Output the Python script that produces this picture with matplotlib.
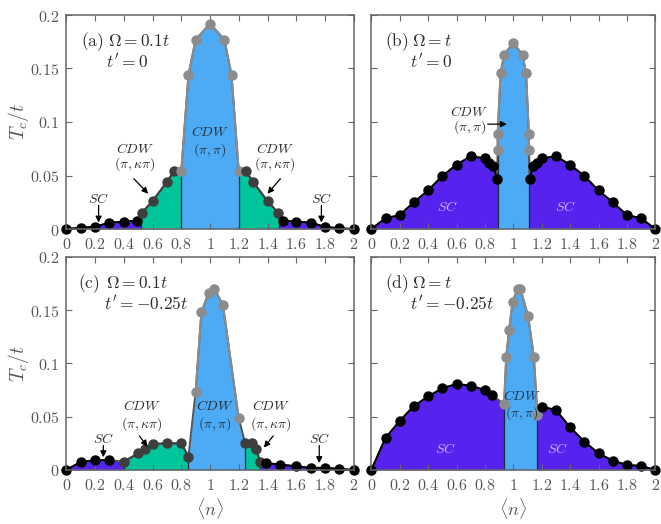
import numpy as np
import matplotlib
matplotlib.use("Agg")
import matplotlib.pyplot as plt
from matplotlib.ticker import FuncFormatter, MultipleLocator

# ----------------------------
# Datos: Tc/t vs <n>, fase de cada punto (S = SC, K = CDW(pi,kpi), C = CDW(pi,pi))
# ----------------------------
a_n = [0, 0.1, 0.2, 0.3, 0.4, 0.49, 0.525, 0.6, 0.7, 0.75, 0.8, 0.85, 0.9, 1.0,
       1.1, 1.15, 1.2, 1.25, 1.3, 1.4, 1.475, 1.51, 1.6, 1.7, 1.8, 1.9, 2.0]
a_tc = [0, 0.0012, 0.002, 0.006, 0.0068, 0.0078, 0.015, 0.026, 0.044, 0.054,
        0.054, 0.144, 0.177, 0.192, 0.177, 0.144, 0.054, 0.054, 0.044, 0.026,
        0.015, 0.0078, 0.0068, 0.006, 0.002, 0.0006, 0]
a_phase = "SSSSSS" "KKKK" "CCCCCCC" "KKKK" "SSSSSS"
a_bounds = [0, 0.52, 0.8, 1.2, 1.48, 2]

b_n = [0, 0.1, 0.2, 0.3, 0.4, 0.5, 0.6, 0.7, 0.8, 0.83, 0.86, 0.885,
       0.89, 0.89, 0.91, 0.935, 1.0, 1.065, 1.09, 1.11, 1.11,
       1.115, 1.14, 1.17, 1.2, 1.3, 1.4, 1.5, 1.6, 1.7, 1.8, 1.9, 2.0]
b_tc = [0, 0.010, 0.013, 0.025, 0.036, 0.0495, 0.060, 0.068, 0.066, 0.062, 0.059, 0.047,
        0.074, 0.089, 0.1455, 0.163, 0.174, 0.163, 0.1455, 0.089, 0.074,
        0.047, 0.059, 0.062, 0.066, 0.068, 0.060, 0.0495, 0.036, 0.025, 0.013, 0.010, 0]
b_phase = "S" * 12 + "C" * 9 + "S" * 12
b_bounds = [0, 0.89, 1.11, 2]

c_n = [0, 0.1, 0.2, 0.3, 0.4, 0.5, 0.55, 0.6, 0.7, 0.8, 0.85,
       0.9, 0.94, 0.99, 1.03, 1.09, 1.2, 1.245, 1.29, 1.32, 1.35,
       1.39, 1.49, 1.6, 1.7, 1.8, 1.9, 2.0]
c_tc = [0, 0.0075, 0.009, 0.0094, 0.0078, 0.0156, 0.020, 0.0244, 0.025, 0.025, 0.0125,
        0.0735, 0.148, 0.166, 0.170, 0.155, 0.0485, 0.025, 0.025, 0.0195, 0.0075,
        0.0065, 0.005, 0.0035, 0.002, 0.002, 0.001, 0]
c_phase = "SSSS" "KKKKKKK" "CCCCCC" "KKKK" "SSSSSSS"
c_bounds = [0, 0.4, 0.85, 1.245, 1.35, 2]

d_n = [0, 0.1, 0.2, 0.3, 0.4, 0.5, 0.6, 0.7, 0.8, 0.85,
       0.935, 0.95, 0.97, 0.995, 1.03, 1.05, 1.105, 1.145, 1.17,
       1.2, 1.3, 1.4, 1.5, 1.6, 1.7, 1.8, 1.9, 2.0]
d_tc = [0, 0.030, 0.046, 0.060, 0.069, 0.0766, 0.0807, 0.079, 0.075, 0.070,
        0.062, 0.106, 0.131, 0.158, 0.170, 0.170, 0.144, 0.106, 0.0516,
        0.0594, 0.0563, 0.040, 0.0266, 0.0156, 0.0088, 0.0047, 0.0038, 0]
d_phase = "S" * 10 + "C" * 9 + "S" * 9
d_bounds = [0, 0.935, 1.17, 2]

panel_tags = ["(a)", "(b)", "(c)", "(d)"]
omega_labels = [r"$\Omega = 0.1t$", r"$\Omega = t$", r"$\Omega = 0.1t$", r"$\Omega = t$"]
tprime_labels = [r"$t' = 0$", r"$t' = 0$", r"$t' = -0.25t$", r"$t' = -0.25t$"]

# ----------------------------
# Estilo
# ----------------------------
plt.rcParams["mathtext.fontset"] = "cm"
plt.rcParams["font.family"] = ["DejaVu Serif"]

fill_col = {"S": "#5522ee", "K": "#00c49a", "C": "#4daaf5"}
dot_col = {"S": "#000000", "K": "#3e3e3e", "C": "#8c8c8c"}
rank = {"S": 0, "K": 1, "C": 2}
txt = "#2e2e2e"
axcol = "#666666"


def draw_panel(ax, n, tc, phase, bounds):
    n = np.array(n)
    tc = np.array(tc)
    ph = np.array(list(phase))
    # runs de fases consecutivas
    runs = []
    start = 0
    for i in range(1, len(ph) + 1):
        if i == len(ph) or ph[i] != ph[start]:
            runs.append((ph[start], start, i))
            start = i
    # regiones rellenas
    polys = []
    for k, (p, i0, i1) in enumerate(runs):
        lo, hi = bounds[k], bounds[k + 1]
        sel = [j for j in range(len(n))
               if lo <= n[j] <= hi and rank[ph[j]] <= rank[p]]
        xs = list(n[sel])
        ys = list(tc[sel])
        if xs[0] > lo:
            xs.insert(0, lo)
            ys.insert(0, np.interp(lo, n, tc))
        if xs[-1] < hi:
            xs.append(hi)
            ys.append(np.interp(hi, n, tc))
        polys.append((p, xs, ys))
    for p, xs, ys in sorted(polys, key=lambda t: rank[t[0]]):
        ax.fill_between(xs, 0, ys, color=fill_col[p], lw=0, zorder=1)
    # fronteras verticales
    for k in range(1, len(polys)):
        h = min(polys[k - 1][2][-1], polys[k][2][0])
        ax.plot([bounds[k], bounds[k]], [0, h], color="#1c2a33", lw=0.9, zorder=2)
    # curva y puntos
    ax.plot(n, tc, color="#555555", lw=1.4, zorder=3, clip_on=False)
    for p, i0, i1 in runs:
        ax.plot(n[i0:i1], tc[i0:i1], color=dot_col[p], lw=1.4, zorder=4,
                marker="o", ms=6.5, mec=dot_col[p], mfc=dot_col[p], clip_on=False)


def style_axes(ax, left):
    ax.set_xlim(0, 2)
    ax.set_ylim(0, 0.2)
    ax.xaxis.set_major_locator(MultipleLocator(0.2))
    ax.yaxis.set_major_locator(MultipleLocator(0.05))
    fmt = FuncFormatter(lambda v, p: f"${v:g}$")
    ax.xaxis.set_major_formatter(fmt)
    ax.yaxis.set_major_formatter(fmt)
    ax.tick_params(direction="in", top=True, right=True, length=4, width=0.8,
                   color=axcol, labelsize=11.5, labelcolor="#555555", pad=5)
    if not left:
        ax.tick_params(labelleft=False)
    for s in ax.spines.values():
        s.set_color(axcol)
        s.set_linewidth(1.1)
        s.set_zorder(5)


fig = plt.figure(figsize=(6.61, 5.24), dpi=100)
W, H = 661, 524
ax_a = fig.add_axes([66.25 / W, 1 - 229 / H, 287.5 / W, 214 / H])
ax_b = fig.add_axes([371.3 / W, 1 - 229 / H, 284 / W, 214 / H])
ax_c = fig.add_axes([66.25 / W, 1 - 470 / H, 287.5 / W, 213.2 / H])
ax_d = fig.add_axes([371.3 / W, 1 - 470 / H, 284 / W, 213.2 / H])
axes = [ax_a, ax_b, ax_c, ax_d]

draw_panel(ax_a, a_n, a_tc, a_phase, a_bounds)
draw_panel(ax_b, b_n, b_tc, b_phase, b_bounds)
draw_panel(ax_c, c_n, c_tc, c_phase, c_bounds)
draw_panel(ax_d, d_n, d_tc, d_phase, d_bounds)

for i, ax in enumerate(axes):
    style_axes(ax, i % 2 == 0)
    tag_x = [0.1, 0.095, 0.085, 0.095][i]
    ax.text(tag_x, 0.175, r"$\mathrm{" + panel_tags[i] + r"}$", fontsize=12.5,
            color=txt, va="center", ha="left")
    ax.text(tag_x + 0.19, 0.175, omega_labels[i], fontsize=12.5, color=txt,
            va="center", ha="left")
    ax.text(tag_x + 0.175, 0.156, tprime_labels[i], fontsize=12.5, color=txt,
            va="center", ha="left")
    if i % 2 == 0:
        ax.set_ylabel(r"$T_c/t$", fontsize=14, color="#555555", va="center")
        ax.yaxis.set_label_coords(-0.165, 0.5)
    if i >= 2:
        ax.set_xlabel(r"$\langle n \rangle$", fontsize=13, color="#555555", va="center")
        ax.xaxis.set_label_coords(0.5, -0.18)

arrow = dict(arrowstyle="-|>", color="k", lw=0.9, mutation_scale=9, shrinkA=0, shrinkB=0)
fs = 10


def two_lines(ax, x, y1, y2, l1, l2, col=txt):
    ax.text(x, y1, l1, fontsize=fs, color=col, ha="center", va="center", zorder=6)
    ax.text(x, y2, l2, fontsize=fs, color=col, ha="center", va="center", zorder=6)


# (a)
ax_a.text(0.225, 0.0285, r"$SC$", fontsize=fs, color=txt, ha="center", va="center")
ax_a.annotate("", xy=(0.225, 0.006), xytext=(0.225, 0.022), arrowprops=arrow, zorder=6)
ax_a.text(1.775, 0.0285, r"$SC$", fontsize=fs, color=txt, ha="center", va="center")
ax_a.annotate("", xy=(1.775, 0.006), xytext=(1.775, 0.022), arrowprops=arrow, zorder=6)
two_lines(ax_a, 0.478, 0.0745, 0.0605, r"$CDW$", r"$(\pi,\kappa\pi)$")
ax_a.annotate("", xy=(0.57, 0.033), xytext=(0.47, 0.047), arrowprops=arrow, zorder=6)
two_lines(ax_a, 1.45, 0.0745, 0.0605, r"$CDW$", r"$(\pi,\kappa\pi)$")
ax_a.annotate("", xy=(1.40, 0.033), xytext=(1.49, 0.047), arrowprops=arrow, zorder=6)
two_lines(ax_a, 1.0, 0.0905, 0.0735, r"$CDW$", r"$(\pi,\pi)$", "#22303e")

# (b)
two_lines(ax_b, 0.69, 0.1095, 0.0955, r"$CDW$", r"$(\pi,\pi)$")
ax_b.annotate("", xy=(0.955, 0.098), xytext=(0.82, 0.098), arrowprops=arrow, zorder=6)
ax_b.text(0.54, 0.021, r"$SC$", fontsize=fs, color="#c8b6ff", ha="center", va="center")
ax_b.text(1.365, 0.021, r"$SC$", fontsize=fs, color="#c8b6ff", ha="center", va="center")

# (c)
ax_c.text(0.258, 0.029, r"$SC$", fontsize=fs, color=txt, ha="center", va="center")
ax_c.annotate("", xy=(0.258, 0.012), xytext=(0.258, 0.023), arrowprops=arrow, zorder=6)
ax_c.text(1.76, 0.029, r"$SC$", fontsize=fs, color=txt, ha="center", va="center")
ax_c.annotate("", xy=(1.76, 0.0065), xytext=(1.76, 0.023), arrowprops=arrow, zorder=6)
two_lines(ax_c, 0.525, 0.0605, 0.0435, r"$CDW$", r"$(\pi,\kappa\pi)$")
ax_c.annotate("", xy=(0.565, 0.022), xytext=(0.508, 0.032), arrowprops=arrow, zorder=6)
two_lines(ax_c, 1.035, 0.0605, 0.0435, r"$CDW$", r"$(\pi,\pi)$", "#22303e")
two_lines(ax_c, 1.422, 0.0605, 0.0435, r"$CDW$", r"$(\pi,\kappa\pi)$")
ax_c.annotate("", xy=(1.375, 0.021), xytext=(1.44, 0.032), arrowprops=arrow, zorder=6)

# (d)
ax_d.text(0.526, 0.020, r"$SC$", fontsize=fs, color="#c8b6ff", ha="center", va="center")
ax_d.text(1.31, 0.020, r"$SC$", fontsize=fs, color="#c8b6ff", ha="center", va="center")
two_lines(ax_d, 1.06, 0.0695, 0.053, r"$CDW$", r"$(\pi,\pi)$", "#1d3550")

fig.savefig("out.png", dpi=100)
